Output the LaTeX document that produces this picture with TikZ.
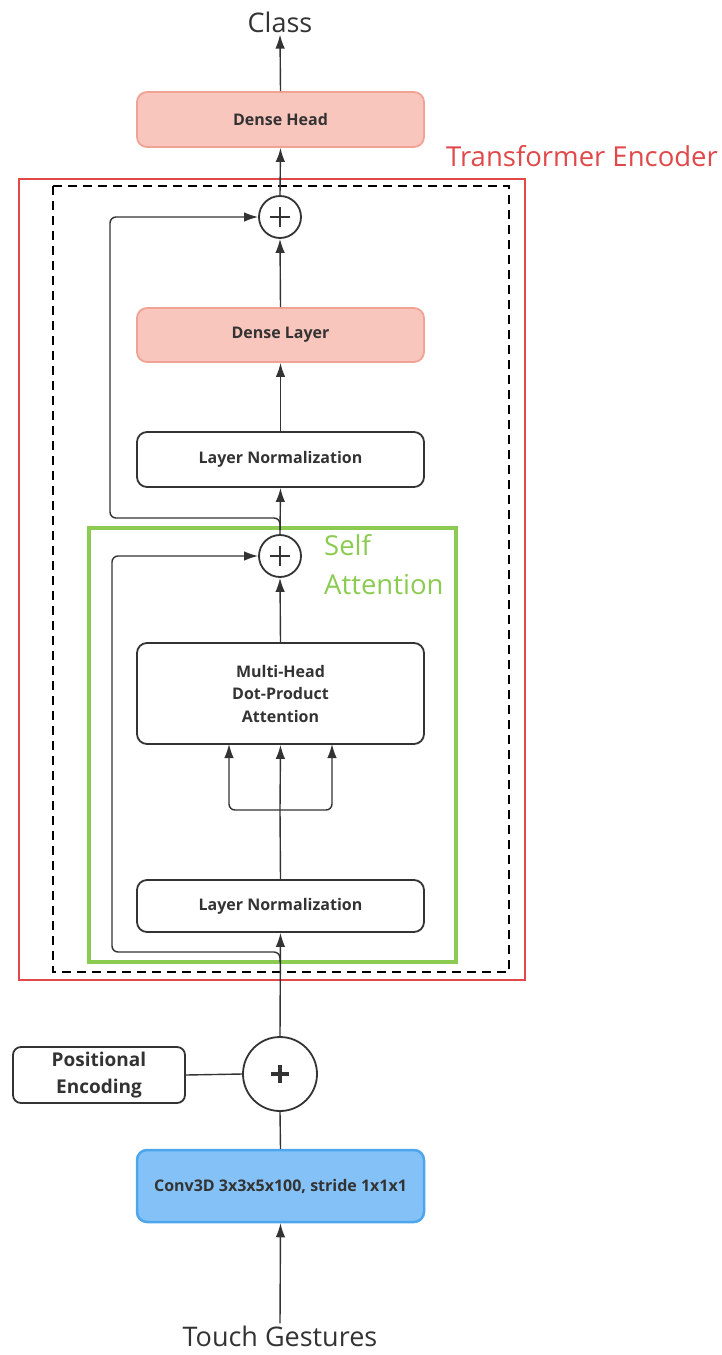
\documentclass[tikz,border=0pt]{standalone}
\usepackage{fontspec}
\setmainfont{Open Sans}
\usetikzlibrary{arrows.meta}
\definecolor{salmonfill}{HTML}{F9C6BD}
\definecolor{salmonline}{HTML}{F0A394}
\definecolor{bluefill}{HTML}{83C1F6}
\definecolor{blueline}{HTML}{4DA5EC}
\definecolor{encred}{HTML}{E0484A}
\definecolor{attgreen}{HTML}{8CCB52}
\definecolor{txt}{HTML}{333333}
\tikzset{
  blk/.style={draw=txt, line width=1.8pt, rounded corners=10pt, minimum width=287pt, fill=white, text=txt, font=\bfseries\fontsize{16}{22}\selectfont, align=center, inner sep=0pt},
  salmonblk/.style={blk, draw=salmonline, fill=salmonfill},
  blueblk/.style={blk, draw=blueline, fill=bluefill, line width=2.5pt},
  plus/.style={circle, draw=txt, line width=1.8pt, inner sep=0pt},
  conn/.style={line width=1.4pt, draw=txt},
  arr/.style={conn, -{Latex[length=14pt,width=9.5pt]}},
  bigtxt/.style={font=\fontsize{27}{32}\selectfont, text=txt, inner sep=2pt},
}
\begin{document}
\begin{tikzpicture}[x=1pt,y=-1pt]
\useasboundingbox (0,0) rectangle (721,1355);
% outer boxes
\draw[encred, line width=2pt] (19,179) rectangle (525,980);
\draw[black, line width=2pt, dash pattern=on 9pt off 6pt] (53,186) rectangle (509,972);
\draw[attgreen, line width=4pt] (89,528) rectangle (456,962);
\node[encred, font=\fontsize{27.5}{32}\selectfont, anchor=west, inner sep=0pt] (tlabel) at (446,156) {Transformer Encoder};
\node[attgreen, font=\fontsize{27.5}{39}\selectfont, anchor=west, align=left, inner sep=0pt] (slabel) at (324,564.5) {Self\\Attention};
% texts
\node[bigtxt] (class) at (280,22) {Class};
\node[bigtxt] (touch) at (280,1336) {Touch Gestures};
% blocks
\node[salmonblk, minimum height=55pt] (head) at (280.5,119.5) {Dense Head};
\node[plus, minimum size=42pt] (p1) at (280,217) {};
\node[salmonblk, minimum height=54pt] (dense) at (280.5,335) {Dense Layer};
\node[blk, minimum height=55pt] (ln1) at (280.5,459.5) {Layer Normalization};
\node[plus, minimum size=42pt] (p2) at (280,556) {};
\node[blk, minimum height=101pt, font=\bfseries\fontsize{16}{22.5}\selectfont] (mha) at (280.5,693.5) {Multi-Head\\Dot-Product\\Attention};
\node[blk, minimum height=52pt] (ln2) at (280.5,906) {Layer Normalization};
\node[plus, minimum size=74pt] (p3) at (280,1074) {};
\node[blk, minimum width=172pt, minimum height=56pt, rounded corners=8pt, font=\bfseries\fontsize{19}{27}\selectfont] (pe) at (99,1075) {Positional\\Encoding};
\node[blueblk, minimum height=72pt] (conv) at (280.5,1186) {Conv3D 3x3x5x100, stride 1x1x1};
% plus signs
\foreach \p/\s/\w in {p1/10/1.8, p2/10/1.8, p3/9/3.2}{
  \draw[txt, line width=\w pt] ([xshift=-\s pt]\p.center) -- ([xshift=\s pt]\p.center);
  \draw[txt, line width=\w pt] ([yshift=-\s pt]\p.center) -- ([yshift=\s pt]\p.center);
}
% main flow
\draw[arr] (touch.north) -- (conv.south);
\draw[conn] (conv.north) -- (p3.south);
\draw[conn] (pe.east) -- (p3.west);
\draw[arr] (p3.north) -- (ln2.south);
\draw[conn] (ln2.north) -- (280,810) coordinate (split);
\draw[arr] (split) -- (mha.south);
\draw[arr, rounded corners=6pt] (split) -- (229,810) -- (229,744);
\draw[arr, rounded corners=6pt] (split) -- (332,810) -- (332,744);
\draw[arr] (mha.north) -- (p2.south);
\draw[arr] (p2.north) -- (ln1.south);
\draw[arr] (ln1.north) -- (dense.south);
\draw[arr] (dense.north) -- (p1.south);
\draw[arr] (p1.north) -- (head.south);
\draw[arr] (head.north) -- (class.south);
% skip connections
\draw[arr, rounded corners=6pt] (280,962) -- (280,952) -- (112,952) -- (112,556) -- (p2.west);
\draw[arr, rounded corners=6pt] (280,530) -- (280,518) -- (110,518) -- (110,217) -- (p1.west);
\end{tikzpicture}
\end{document}
